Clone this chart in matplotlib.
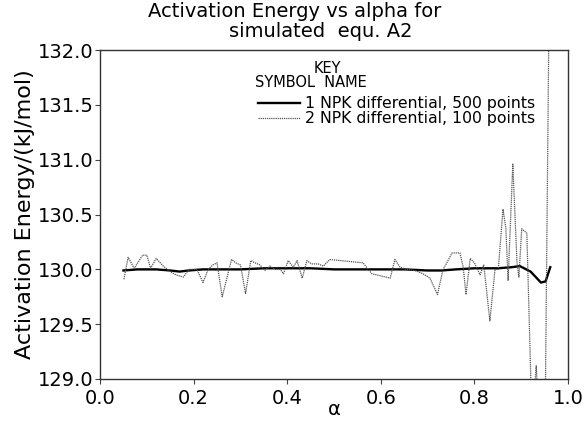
import matplotlib
matplotlib.use("Agg")
import matplotlib.pyplot as plt
from matplotlib.lines import Line2D

plt.rcParams['font.family'] = ['DejaVu Sans']

# Series 1: NPK differential, 500 points (smooth)
alpha_500 = [0.05, 0.08, 0.12, 0.15, 0.17, 0.19, 0.22, 0.30, 0.35, 0.40, 0.45,
             0.50, 0.55, 0.60, 0.65, 0.70, 0.73, 0.76, 0.80, 0.85, 0.88, 0.897,
             0.92, 0.942, 0.952, 0.962]
ea_500 = [129.99, 130.00, 130.00, 129.99, 129.98, 129.99, 130.00, 130.00, 130.01,
          130.01, 130.01, 130.00, 130.00, 130.00, 130.00, 129.99, 129.99, 130.00,
          130.01, 130.01, 130.02, 130.03, 129.98, 129.88, 129.89, 130.02]

# Series 2: NPK differential, 100 points (noisy)
alpha_100 = [0.051, 0.060, 0.073, 0.091, 0.100, 0.108, 0.120, 0.135, 0.150, 0.162,
             0.178, 0.190, 0.207, 0.220, 0.231, 0.241, 0.250, 0.261, 0.281, 0.290,
             0.300, 0.311, 0.322, 0.331, 0.342, 0.352, 0.363, 0.374, 0.385, 0.392,
             0.402, 0.413, 0.421, 0.432, 0.442, 0.452, 0.466, 0.477, 0.491, 0.562,
             0.573, 0.581, 0.620, 0.630, 0.641, 0.655, 0.673, 0.690, 0.705, 0.721,
             0.733, 0.741, 0.752, 0.769, 0.776, 0.782, 0.791, 0.800, 0.812, 0.820,
             0.833, 0.844, 0.851, 0.861, 0.867, 0.872, 0.882, 0.891, 0.895, 0.901,
             0.912, 0.923, 0.932, 0.938, 0.951, 0.962]
ea_100 = [129.91, 130.11, 130.01, 130.13, 130.13, 130.01, 130.10, 130.03, 129.98, 129.95,
          129.93, 130.00, 130.00, 129.88, 130.00, 130.04, 130.06, 129.75, 130.09, 130.06,
          130.04, 129.78, 130.08, 130.06, 130.04, 129.99, 130.03, 130.00, 130.00, 129.96,
          130.08, 130.02, 130.08, 129.92, 130.08, 130.05, 130.05, 130.03, 130.09, 130.06,
          130.00, 129.96, 129.92, 130.09, 130.02, 130.00, 129.99, 129.96, 129.92, 129.77,
          130.00, 130.06, 130.15, 130.15, 130.02, 129.77, 130.10, 130.06, 129.95, 130.04,
          129.53, 130.00, 130.00, 130.55, 130.38, 129.90, 130.96, 130.06, 129.93, 130.37,
          130.33, 128.60, 129.12, 128.60, 128.60, 133.50]

xticks = [0.0, 0.2, 0.4, 0.6, 0.8, 1.0]
yticks = [129.0, 129.5, 130.0, 130.5, 131.0, 131.5, 132.0]
labels = ["1 NPK differential, 500 points", "2 NPK differential, 100 points"]

fig = plt.figure(figsize=(5.85, 4.21), dpi=100)
ax = fig.add_axes([0.171, 0.0998, 0.800, 0.781])

ax.plot(alpha_500, ea_500, color='black', lw=1.7)
ax.plot(alpha_100, ea_100, color='#555555', lw=0.9, linestyle=(0, (1, 0.7)))

ax.set_xlim(0, 1)
ax.set_ylim(129, 132)
ax.set_xticks(xticks)
ax.set_yticks(yticks)
ax.set_xticklabels([f"{v:.1f}" for v in xticks])
ax.set_yticklabels([f"{v:.1f}" for v in yticks])
ax.tick_params(labelsize=14, length=3.5, width=0.8, color='#444444')
ax.tick_params(axis='y', pad=1)
ax.tick_params(axis='x', pad=4)
for s in ax.spines.values():
    s.set_linewidth(1.0)
    s.set_color('#333333')

ax.set_ylabel("Activation Energy/(kJ/mol)", fontsize=16, labelpad=2)
ax.set_xlabel("α", fontsize=14, labelpad=-6)

fig.text(0.504, 0.972, "Activation Energy vs alpha for", ha='center', va='center', fontsize=14)
fig.text(0.549, 0.926, "simulated  equ. A2", ha='center', va='center', fontsize=14)

# Key
kfs = 10.5
ax.text(0.485, 0.945, "KEY", transform=ax.transAxes, ha='center', va='center', fontsize=kfs)
ax.text(0.45, 0.903, "SYMBOL  NAME", transform=ax.transAxes, ha='center', va='center', fontsize=kfs)
ax.add_line(Line2D([0.338, 0.427], [0.839, 0.839], transform=ax.transAxes, color='black', lw=1.7))
ax.add_line(Line2D([0.338, 0.427], [0.793, 0.793], transform=ax.transAxes, color='#555555',
                   lw=0.9, linestyle=(0, (1, 0.7))))
ax.text(0.438, 0.839, labels[0], transform=ax.transAxes, ha='left', va='center', fontsize=11.3)
ax.text(0.438, 0.793, labels[1], transform=ax.transAxes, ha='left', va='center', fontsize=11.3)

fig.savefig("out.png", dpi=100)
